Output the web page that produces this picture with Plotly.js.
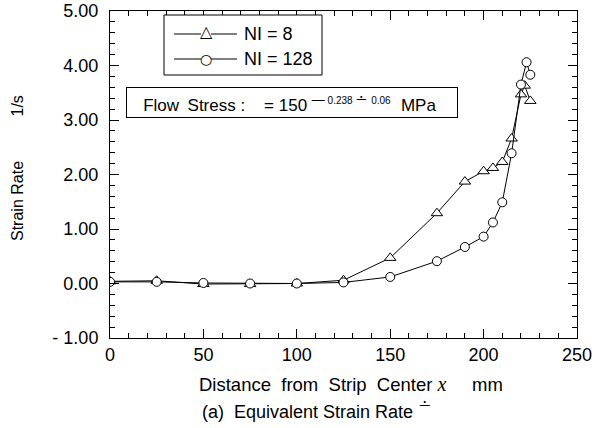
<!DOCTYPE html>
<html>
<head>
<meta charset="utf-8">
<script src="https://cdn.plot.ly/plotly-3.0.1.min.js"></script>
<style>html,body{margin:0;padding:0;background:#fff;}#chart{width:595px;height:428px;}</style>
</head>
<body>
<div id="chart"></div>
<script>
// Data
const xNI8 = [0, 25, 50, 75, 100, 125, 150, 175, 190, 200, 205, 210, 215, 220, 222, 225];
const yNI8 = [0.04, 0.05, -0.01, -0.01, 0.00, 0.06, 0.47, 1.29, 1.87, 2.06, 2.12, 2.23, 2.66, 3.47, 3.63, 3.35];
const xNI128 = [0, 25, 50, 75, 100, 125, 150, 175, 190, 200, 205, 210, 215, 220, 223, 225];
const yNI128 = [0.03, 0.03, 0.01, 0.00, 0.00, 0.02, 0.12, 0.41, 0.67, 0.86, 1.12, 1.49, 2.39, 3.65, 4.06, 3.83];
const seriesNames = ['NI = 8', 'NI = 128'];
const xTickVals = [0, 50, 100, 150, 200, 250];
const xTickText = ['0', '50', '100', '150', '200', '250'];
const yTickVals = [-1, 0, 1, 2, 3, 4, 5];
const yTickText = ['- 1.00', '0.00', '1.00', '2.00', '3.00', '4.00', '5.00'];

const FONT = 'Liberation Sans, Arial, sans-serif';
const NB = '\u00A0';
const EN = '\u2002';
const sp = n => NB.repeat(n);

// plot area in pixels (for converting decoration positions to paper fractions)
const PL = 110, PR = 577, PT = 11, PB = 338;
const px = v => (v - PL) / (PR - PL);
const py = v => (PB - v) / (PB - PT);

const markerStyles = [
  {symbol: 'triangle-up', size: 10, color: '#fff', line: {color: '#000', width: 1}},
  {symbol: 'circle', size: 9, color: '#fff', line: {color: '#000', width: 1}}
];

const traces = [
  {x: xNI8, y: yNI8, name: seriesNames[0], type: 'scatter', mode: 'lines+markers',
   line: {color: '#000', width: 1}, marker: markerStyles[0], showlegend: false},
  {x: xNI128, y: yNI128, name: seriesNames[1], type: 'scatter', mode: 'lines+markers',
   line: {color: '#000', width: 1}, marker: markerStyles[1], showlegend: false}
];

const axisCommon = {
  showline: true, linecolor: '#000', linewidth: 1, mirror: 'ticks',
  ticks: 'inside', tickcolor: '#000', tickwidth: 1, ticklen: 9,
  showgrid: false, zeroline: false,
  tickfont: {family: FONT, size: 18, color: '#000'}
};

// Legend drawn as a boxed key: lines as shapes, symbols & labels as text
const legRows = [34, 59];
const legGlyphs = ['△', '○'];
const shapes = [
  {type: 'rect', xref: 'paper', yref: 'paper', x0: px(164), x1: px(322), y0: py(75), y1: py(15),
   line: {color: '#000', width: 1}, fillcolor: '#fff', layer: 'above'}
];
const annotations = [];
legRows.forEach((ry, i) => {
  shapes.push({type: 'line', xref: 'paper', yref: 'paper', x0: px(174), x1: px(201), y0: py(ry), y1: py(ry),
               line: {color: '#000', width: 1}, layer: 'above'});
  shapes.push({type: 'line', xref: 'paper', yref: 'paper', x0: px(211), x1: px(237), y0: py(ry), y1: py(ry),
               line: {color: '#000', width: 1}, layer: 'above'});
  annotations.push({xref: 'paper', yref: 'paper', x: px(206), y: py(ry + (i === 0 ? -2 : 0)), xanchor: 'center', yanchor: 'middle',
                    showarrow: false, font: {family: 'DejaVu Sans', size: i === 0 ? 16 : 14, color: '#000'}, text: legGlyphs[i]});
  annotations.push({xref: 'paper', yref: 'paper', x: px(242), y: py(ry), xanchor: 'left', yanchor: 'middle',
                    showarrow: false, font: {family: FONT, size: 18, color: '#000'}, text: seriesNames[i]});
});

annotations.push(
  {
    xref: 'paper', yref: 'paper', x: px(292), y: py(102.5), xanchor: 'center', yanchor: 'middle',
    showarrow: false, align: 'left',
    bordercolor: '#000', borderwidth: 1, borderpad: 2, bgcolor: '#fff',
    width: 326, height: 25,
    font: {family: FONT, size: 17, color: '#000'},
    text: sp(3) + 'Flow' + EN + 'Stress' + NB + ':' + sp(4) + '=' + NB + '150' + NB +
          '<sup><span style="font-size:13px">—</span></sup>' +
          '<sup><span style="font-size:10px">' + NB + '0.238' + NB + '</span></sup>' +
          '<sup><span style="font-size:15px">∸</span></sup>' +
          '<sup><span style="font-size:10px">' + NB + '0.06' + sp(2) + '</span></sup>' + NB + 'MPa'
  },
  {
    xref: 'paper', yref: 'paper', x: px(197), y: py(384), xanchor: 'left', yanchor: 'middle',
    showarrow: false, font: {family: FONT, size: 18.5, color: '#000'},
    text: 'Distance' + sp(2) + 'from' + sp(2) + 'Strip' + sp(2) + 'Center' + NB +
          '<i><span style="font-family:Liberation Serif,Times New Roman,serif;font-size:20px">x</span></i>' +
          sp(5) + 'mm'
  },
  {
    xref: 'paper', yref: 'paper', x: px(200), y: py(409), xanchor: 'left', yanchor: 'middle',
    showarrow: false, font: {family: FONT, size: 18, color: '#000'},
    text: '(a)' + sp(2) + 'Equivalent' + NB + 'Strain' + NB + 'Rate' + sp(1) +
          '<sup><span style="font-size:16px">∸</span></sup>'
  },
  {
    xref: 'paper', yref: 'paper', x: px(17), y: py(168), xanchor: 'center', yanchor: 'middle',
    showarrow: false, textangle: -90, font: {family: FONT, size: 16, color: '#000'},
    text: 'Strain' + NB + 'Rate' + sp(10) + '1/s'
  }
);

const layout = {
  width: 595, height: 428,
  margin: {l: PL, r: 595 - PR, t: PT, b: 428 - PB},
  paper_bgcolor: '#fff', plot_bgcolor: '#fff',
  showlegend: false,
  xaxis: Object.assign({}, axisCommon, {
    range: [0, 250], tickmode: 'array', tickvals: xTickVals, ticktext: xTickText,
    minor: {dtick: 10, ticks: 'inside', ticklen: 5, tickcolor: '#000', tickwidth: 1},
    ticklabelstandoff: 0
  }),
  yaxis: Object.assign({}, axisCommon, {
    range: [-1, 5], tickmode: 'array', tickvals: yTickVals, ticktext: yTickText,
    minor: {dtick: 0.2, ticks: 'inside', ticklen: 5, tickcolor: '#000', tickwidth: 1},
    ticklabelstandoff: 7
  }),
  shapes: shapes,
  annotations: annotations
};

Plotly.newPlot('chart', traces, layout, {staticPlot: true, displayModeBar: false});
</script>
</body>
</html>
